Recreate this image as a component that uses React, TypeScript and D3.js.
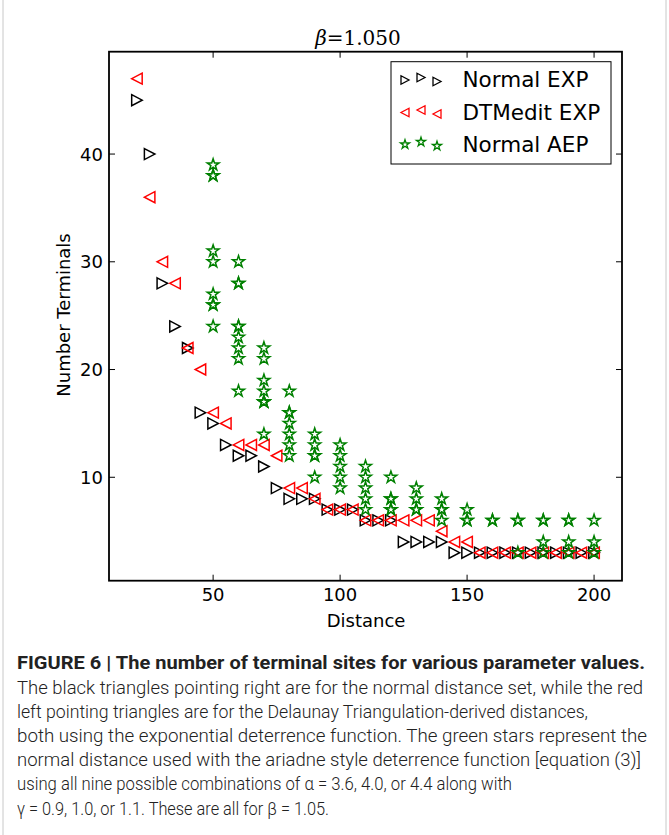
import React from "react";
import * as d3 from "d3";

// Normal distance set, exponential deterrence: [distance, terminals]
const normalExp: [number, number][] = [
  [20, 45], [25, 40], [30, 28], [35, 24], [40, 22], [45, 16], [50, 15], [55, 13],
  [60, 12], [65, 12], [70, 11], [75, 9], [80, 8], [85, 8], [90, 8], [95, 7],
  [100, 7], [105, 7], [110, 6], [115, 6], [120, 6], [125, 4], [130, 4], [135, 4],
  [140, 4], [145, 3], [150, 3], [155, 3], [160, 3], [165, 3], [170, 3], [175, 3],
  [180, 3], [185, 3], [190, 3], [195, 3], [200, 3],
];

// Delaunay-derived distances, exponential deterrence
const dtmeditExp: [number, number][] = [
  [20, 47], [25, 36], [30, 30], [35, 28], [40, 22], [45, 20], [50, 16], [55, 15],
  [60, 13], [65, 13], [70, 13], [75, 12], [80, 9], [85, 9], [90, 8], [95, 7],
  [100, 7], [105, 7], [110, 6], [115, 6], [120, 6], [125, 6], [130, 6], [135, 6],
  [140, 5], [145, 4], [150, 4], [155, 3], [160, 3], [165, 3], [170, 3], [175, 3],
  [180, 3], [185, 3], [190, 3], [195, 3], [200, 3],
];

// Normal distance, ariadne deterrence (repeated entries are coinciding runs)
const normalAep: [number, number][] = [
  [50, 39], [50, 38], [50, 38], [50, 31], [50, 30], [50, 27], [50, 26], [50, 26], [50, 24],
  [60, 30], [60, 28], [60, 28], [60, 24], [60, 24], [60, 23], [60, 22], [60, 21], [60, 18],
  [70, 22], [70, 21], [70, 19], [70, 18], [70, 17], [70, 17], [70, 17], [70, 14],
  [80, 18], [80, 16], [80, 16], [80, 15], [80, 14], [80, 13], [80, 12],
  [90, 14], [90, 13], [90, 12], [90, 12], [90, 10],
  [100, 13], [100, 12], [100, 11], [100, 10], [100, 9],
  [110, 11], [110, 10], [110, 9], [110, 8], [110, 7],
  [120, 10], [120, 8], [120, 8], [120, 7], [120, 7],
  [130, 9], [130, 8], [130, 7], [130, 7],
  [140, 8], [140, 7], [140, 7], [140, 6],
  [150, 7], [150, 6], [150, 6],
  [160, 6], [160, 6],
  [170, 6], [170, 6], [170, 3],
  [180, 6], [180, 6], [180, 4], [180, 3],
  [190, 6], [190, 6], [190, 4], [190, 3],
  [200, 6], [200, 4], [200, 3],
];

const xTicks = [50, 100, 150, 200];
const yTicks = [10, 20, 30, 40];
const xDomain: [number, number] = [9, 211];
const yDomain: [number, number] = [0.4, 49.5];

const legendLabels = ["Normal EXP", "DTMedit EXP", "Normal AEP"];

const captionLines = [
  "The black triangles pointing right are for the normal distance set, while the red",
  "left pointing triangles are for the Delaunay Triangulation-derived distances,",
  "both using the exponential deterrence function. The green stars represent the",
  "normal distance used with the ariadne style deterrence function [equation (3)]",
  "using all nine possible combinations of α = 3.6, 4.0, or 4.4 along with",
  "γ = 0.9, 1.0, or 1.1. These are all for β = 1.05.",
];
const captionWidths = [626, 571, 630, 624, 495, 312];

const W = 669;
const H = 835;
const plot = { left: 109, right: 622, top: 51.7, bottom: 580.7 };

const triRight = (s: number, h: number) =>
  `M${-s / 2},${-h / 2}L${s / 2},0L${-s / 2},${h / 2}Z`;
const triLeft = (s: number, h: number) =>
  `M${s / 2},${-h / 2}L${-s / 2},0L${s / 2},${h / 2}Z`;
const star = (R: number) => {
  const r = R * 0.381966;
  const pts: string[] = [];
  for (let i = 0; i < 10; i++) {
    const a = (Math.PI / 5) * i - Math.PI / 2;
    const rad = i % 2 === 0 ? R : r;
    pts.push(`${(rad * Math.cos(a)).toFixed(2)},${(rad * Math.sin(a)).toFixed(2)}`);
  }
  return `M${pts.join("L")}Z`;
};

const SANS = "'DejaVu Sans', sans-serif";
const CAP = "Roboto, 'Liberation Sans', sans-serif";

export default function App() {
  const x = d3.scaleLinear().domain(xDomain).range([plot.left, plot.right]);
  const y = d3.scaleLinear().domain(yDomain).range([plot.bottom, plot.top]);
  const tick = 6;

  const blackPath = triRight(10.5, 11);
  const redPath = triLeft(10.5, 11);
  const starPath = star(6.2);

  const legendRows = [
    { path: triRight(8, 8.5), stroke: "#000", y: 79 },
    { path: triLeft(8, 8.5), stroke: "#ff0000", y: 111.5 },
    { path: star(4.8), stroke: "#008000", y: 143.5 },
  ];
  const legendDx = [405, 421, 437];
  const legendDy = [1, -1.5, 2.5];

  return (
    <div style={{ position: "absolute", left: 0, top: 0 }}>
      <svg width={W} height={H} style={{ display: "block", background: "#fff" }}>
        <rect x={0} y={0} width={W} height={H} fill="#fff" />
        <line x1={3} y1={0} x2={3} y2={H} stroke="#c8c8c8" strokeWidth={1} />
        <line x1={666} y1={0} x2={666} y2={H} stroke="#c8c8c8" strokeWidth={1} />

        {/* title */}
        <text
          x={358}
          y={45}
          textAnchor="middle"
          fontFamily="'DejaVu Serif', 'Liberation Serif', serif"
          fontSize={20}
        >
          <tspan fontStyle="italic">β</tspan>
          <tspan>=1.050</tspan>
        </text>

        {/* markers */}
        <g fill="none" strokeWidth={1.5}>
          {normalExp.map(([d, v], i) => (
            <path key={`b${i}`} d={blackPath} stroke="#000" transform={`translate(${x(d)},${y(v)})`} />
          ))}
          {dtmeditExp.map(([d, v], i) => (
            <path key={`r${i}`} d={redPath} stroke="#ff0000" transform={`translate(${x(d)},${y(v)})`} />
          ))}
          {normalAep.map(([d, v], i) => (
            <path
              key={`g${i}`}
              d={starPath}
              stroke="#008000"
              strokeLinejoin="miter"
              transform={`translate(${x(d)},${y(v)})`}
            />
          ))}
        </g>

        {/* ticks */}
        <g stroke="#000" strokeWidth={1}>
          {xTicks.map((t) => (
            <g key={`xt${t}`}>
              <line x1={x(t)} x2={x(t)} y1={plot.bottom} y2={plot.bottom - tick} />
              <line x1={x(t)} x2={x(t)} y1={plot.top} y2={plot.top + tick} />
            </g>
          ))}
          {yTicks.map((t) => (
            <g key={`yt${t}`}>
              <line x1={plot.left} x2={plot.left + tick} y1={y(t)} y2={y(t)} />
              <line x1={plot.right} x2={plot.right - tick} y1={y(t)} y2={y(t)} />
            </g>
          ))}
        </g>

        {/* frame */}
        <rect
          x={plot.left}
          y={plot.top}
          width={plot.right - plot.left}
          height={plot.bottom - plot.top}
          fill="none"
          stroke="#000"
          strokeWidth={1.8}
        />

        {/* tick labels */}
        <g fontFamily={SANS} fontSize={18} fill="#000">
          {xTicks.map((t) => (
            <text key={`xl${t}`} x={x(t)} y={601} textAnchor="middle">
              {t}
            </text>
          ))}
          {yTicks.map((t) => (
            <text key={`yl${t}`} x={103} y={y(t) + 6.5} textAnchor="end">
              {t}
            </text>
          ))}
        </g>

        {/* axis labels */}
        <text x={366} y={627} textAnchor="middle" fontFamily={SANS} fontSize={18}>
          Distance
        </text>
        <text
          transform={`translate(70,315) rotate(-90)`}
          textAnchor="middle"
          fontFamily={SANS}
          fontSize={18}
        >
          Number Terminals
        </text>

        {/* legend */}
        <rect x={391} y={61.7} width={220} height={102.3} fill="#fff" stroke="#000" strokeWidth={1} />
        {legendRows.map((row, i) => (
          <g key={`lg${i}`}>
            {legendDx.map((lx, j) => (
              <path
                key={j}
                d={row.path}
                fill="none"
                stroke={row.stroke}
                strokeWidth={1.3}
                transform={`translate(${lx},${row.y + legendDy[j]})`}
              />
            ))}
            <text x={462.5} y={row.y + 8} fontFamily={SANS} fontSize={21.5}>
              {legendLabels[i]}
            </text>
          </g>
        ))}

        {/* caption */}
        <g fontFamily={CAP} fontSize={17.5} fill="#222">
          <text x={17} y={669} fontWeight={700} textLength={628} lengthAdjust="spacingAndGlyphs">
            FIGURE 6 | The number of terminal sites for various parameter values.
          </text>
          {captionLines.map((line, i) => (
            <text
              key={`c${i}`}
              x={17}
              y={693.5 + i * 24.2}
              fontWeight={300}
              textLength={captionWidths[i]}
              lengthAdjust="spacingAndGlyphs"
            >
              {line}
            </text>
          ))}
        </g>
      </svg>
    </div>
  );
}
